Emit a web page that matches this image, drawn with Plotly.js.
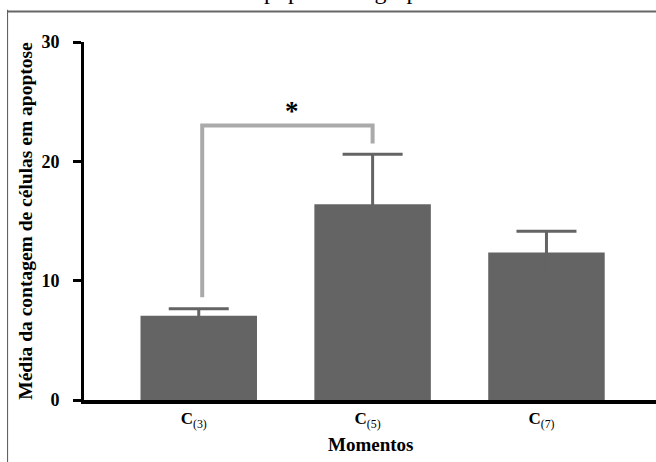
<!DOCTYPE html>
<html>
<head>
<meta charset="utf-8">
<script src="https://cdn.plot.ly/plotly-3.0.1.min.js"></script>
<style>
  html, body { margin: 0; padding: 0; background: #fff; overflow: hidden; }
  #chart { position: absolute; left: 0; top: 0; width: 656px; height: 462px; }
</style>
</head>
<body>
<div id="chart"></div>
<script>
// Data
const categories = ['C3', 'C5', 'C7'];
const tickLabels = ['<b>C</b><sub>(3)</sub>', '<b>C</b><sub>(5)</sub>', '<b>C</b><sub>(7)</sub>'];
const means = [7.05, 16.4, 12.35];
const errors = [0.6, 4.2, 1.8];
// significance bracket between C3 and C5
const bracketX = [0.02, 0.02, 1.0, 1.0];
const bracketY = [8.6, 23.0, 23.0, 21.5];
const sigLabel = '*';

const FONT = '"Times New Roman", "Liberation Serif", serif';

const traces = [
  {
    type: 'bar',
    x: categories,
    y: means,
    marker: { color: '#646464' },
    error_y: { type: 'data', array: errors, symmetric: true,
               color: '#646464', thickness: 3, width: 30, visible: true },
    hoverinfo: 'none'
  },
  {
    type: 'scatter', mode: 'lines',
    x: bracketX, y: bracketY,
    xaxis: 'x2',
    line: { color: '#aaaaaa', width: 4 },
    hoverinfo: 'none'
  }
];

const layout = {
  width: 656, height: 462,
  paper_bgcolor: '#ffffff',
  plot_bgcolor: 'rgba(0,0,0,0)',
  margin: { l: 84, r: 0, t: 42, b: 62 },
  showlegend: false,
  bargap: 0.33,
  font: { family: FONT, color: '#000' },
  xaxis: {
    type: 'category',
    range: [-0.66, 2.63],
    tickvals: categories,
    ticktext: tickLabels,
    tickfont: { family: FONT, size: 17, color: '#000' },
    ticklabelshift: -5,
    showline: true, linecolor: '#000', linewidth: 4,
    ticks: '', showgrid: false, zeroline: false,
    fixedrange: true
  },
  xaxis2: {
    overlaying: 'x', range: [-0.66, 2.63], visible: false, fixedrange: true
  },
  yaxis: {
    range: [0, 30],
    tickvals: [0, 10, 20, 30],
    tickfont: { family: FONT, size: 18, color: '#000', weight: 'bold' },
    showline: true, linecolor: '#000', linewidth: 3,
    ticks: 'outside', ticklen: 8, tickwidth: 3, tickcolor: '#000',
    showgrid: false, zeroline: false,
    ticklabelstandoff: 10,
    title: { text: '<b>Média da contagem de células em apoptose</b>',
             font: { family: FONT, size: 19.5, color: '#000' }, standoff: 4 },
    fixedrange: true
  },
  shapes: [
    { type: 'line', xref: 'paper', yref: 'paper', layer: 'below',
      x0: -0.1336, x1: -0.1336, y0: 1.09, y1: -0.2, line: { color: '#555', width: 1 } },
    { type: 'line', xref: 'paper', yref: 'paper', layer: 'below',
      x0: -0.1336, x1: 1.01, y0: 1.0855, y1: 1.0855, line: { color: '#666', width: 2 } }
  ],
  annotations: [
    { xref: 'paper', yref: 'paper', x: 0.5, y: -0.123, yanchor: 'middle', xanchor: 'center',
      text: '<b>Momentos</b>', showarrow: false,
      font: { family: FONT, size: 19, color: '#000' } },
    { xref: 'x2', yref: 'y', x: 0.535, y: 24.2, yanchor: 'middle', xanchor: 'center',
      text: '<b>' + sigLabel + '</b>', showarrow: false,
      font: { family: FONT, size: 27, color: '#000' } },
    { xref: 'paper', yref: 'paper', x: 0.094, y: 1.1, yanchor: 'bottom', xanchor: 'left',
      text: 'Células em apoptose no grupo', showarrow: false,
      font: { family: FONT, size: 24, color: '#000' } }
  ]
};

Plotly.newPlot('chart', traces, layout, { displayModeBar: false, staticPlot: true });
</script>
</body>
</html>
